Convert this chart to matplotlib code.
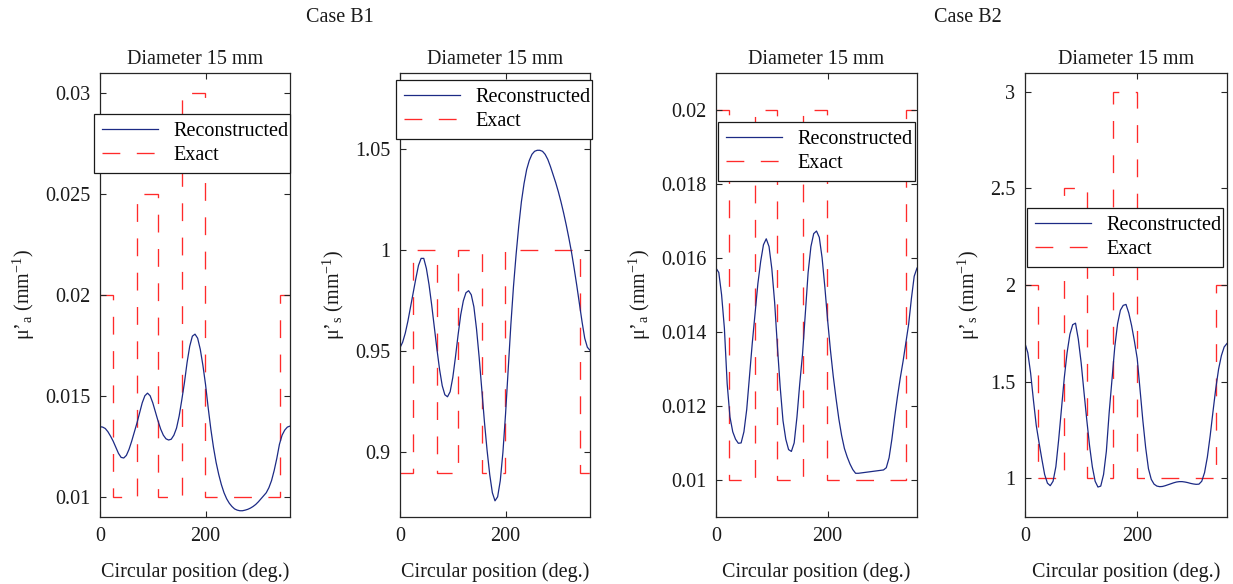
import numpy as np
import matplotlib
matplotlib.use("Agg")
import matplotlib.pyplot as plt

plt.rcParams["font.family"] = ["Liberation Serif", "DejaVu Serif"]
plt.rcParams["mathtext.fontset"] = "custom"
plt.rcParams["mathtext.rm"] = "Liberation Serif"
plt.rcParams["mathtext.it"] = "Liberation Serif:italic"
plt.rcParams["font.size"] = 14.5

# ---------------------------------------------------------------- data
angle = np.arange(0, 361, 5)  # circular position (deg.)

# Case B1 – absorption, reconstructed
b1_mua = [0.01347, 0.01345, 0.01338, 0.01322, 0.01300, 0.01275, 0.01245, 0.01215,
          0.01195, 0.01192, 0.01205, 0.01235, 0.01275, 0.01320, 0.01365, 0.01415,
          0.01465, 0.01500, 0.01513, 0.01500, 0.01465, 0.01420, 0.01375, 0.01335,
          0.01305, 0.01287, 0.01281, 0.01285, 0.01305, 0.01340, 0.01400, 0.01480,
          0.01565, 0.01665, 0.01745, 0.01795, 0.01805, 0.01785, 0.01730, 0.01650,
          0.01555, 0.01440, 0.01335, 0.01245, 0.01170, 0.01110, 0.01060, 0.01020,
          0.00990, 0.00968, 0.00952, 0.00940, 0.00934, 0.00931, 0.00931, 0.00934,
          0.00938, 0.00944, 0.00952, 0.00962, 0.00975, 0.00990, 0.01005, 0.01020,
          0.01045, 0.01080, 0.01130, 0.01190, 0.01260, 0.01305, 0.01330, 0.01345,
          0.01350]

# Case B1 – reduced scattering, reconstructed
b1_mus = [0.9518, 0.9545, 0.9590, 0.9650, 0.9720, 0.9790, 0.9860, 0.9925,
          0.9960, 0.9960, 0.9910, 0.9830, 0.9730, 0.9620, 0.9510, 0.9410,
          0.9330, 0.9285, 0.9275, 0.9300, 0.9370, 0.9470, 0.9580, 0.9680,
          0.9750, 0.9790, 0.9800, 0.9780, 0.9720, 0.9610, 0.9470, 0.9310,
          0.9150, 0.9010, 0.8890, 0.8800, 0.8760, 0.8780, 0.8860, 0.9000,
          0.9190, 0.9410, 0.9630, 0.9820, 0.9980, 1.0120, 1.0240, 1.0330,
          1.0400, 1.0445, 1.0475, 1.0490, 1.0495, 1.0495, 1.0490, 1.0475,
          1.0450, 1.0415, 1.0375, 1.0335, 1.0290, 1.0240, 1.0185, 1.0125,
          1.0060, 0.9990, 0.9910, 0.9825, 0.9735, 0.9645, 0.9565, 0.9520,
          0.9505]

# Case B2 – absorption, reconstructed
b2_mua = [0.01572, 0.01560, 0.01500, 0.01410, 0.01260, 0.01170, 0.01130, 0.01110,
          0.01099, 0.01100, 0.01130, 0.01190, 0.01280, 0.01370, 0.01450, 0.01530,
          0.01590, 0.01635, 0.01651, 0.01630, 0.01570, 0.01480, 0.01360, 0.01250,
          0.01160, 0.01110, 0.01082, 0.01077, 0.01100, 0.01170, 0.01260, 0.01340,
          0.01450, 0.01560, 0.01630, 0.01665, 0.01672, 0.01655, 0.01600, 0.01520,
          0.01430, 0.01350, 0.01280, 0.01220, 0.01165, 0.01120, 0.01085, 0.01062,
          0.01043, 0.01028, 0.01018, 0.01018, 0.01019, 0.01020, 0.01021, 0.01022,
          0.01023, 0.01024, 0.01025, 0.01026, 0.01027, 0.01033, 0.01060, 0.01110,
          0.01170, 0.01225, 0.01275, 0.01320, 0.01370, 0.01420, 0.01490, 0.01550,
          0.01572]

# Case B2 – reduced scattering, reconstructed
b2_mus = [1.698, 1.650, 1.545, 1.405, 1.275, 1.185, 1.100, 1.020,
          0.975, 0.962, 0.985, 1.060, 1.200, 1.360, 1.520, 1.650,
          1.745, 1.795, 1.803, 1.720, 1.600, 1.450, 1.305, 1.170,
          1.060, 0.985, 0.955, 0.960, 1.020, 1.140, 1.340, 1.510,
          1.680, 1.800, 1.870, 1.895, 1.900, 1.855, 1.790, 1.710,
          1.620, 1.460, 1.300, 1.160, 1.050, 0.995, 0.970, 0.960,
          0.957, 0.958, 0.962, 0.967, 0.972, 0.977, 0.981, 0.983,
          0.983, 0.981, 0.978, 0.974, 0.971, 0.969, 0.970, 0.985,
          1.030, 1.110, 1.220, 1.345, 1.465, 1.565, 1.635, 1.680,
          1.698]

# Exact piecewise-constant profiles (segment edges in degrees)
exact_edges = [0, 24, 70, 110, 156, 199, 341, 360]
b1_mua_exact = [0.02, 0.01, 0.025, 0.01, 0.03, 0.01, 0.02]
b1_mus_exact = [0.89, 1.0, 0.89, 1.0, 0.89, 1.0, 0.89]
b2_mua_exact = [0.02, 0.01, 0.02, 0.01, 0.02, 0.01, 0.02]
b2_mus_exact = [2.0, 1.0, 2.5, 1.0, 3.0, 1.0, 2.0]

# y-axis settings per panel
ylims = [(0.009, 0.031), (0.868, 1.088), (0.009, 0.021), (0.80, 3.10)]
yticks = [[0.01, 0.015, 0.02, 0.025, 0.03],
          [0.9, 0.95, 1.0, 1.05],
          [0.01, 0.012, 0.014, 0.016, 0.018, 0.02],
          [1, 1.5, 2, 2.5, 3]]
ytick_labels = [["0.01", "0.015", "0.02", "0.025", "0.03"],
                ["0.9", "0.95", "1", "1.05"],
                ["0.01", "0.012", "0.014", "0.016", "0.018", "0.02"],
                ["1", "1.5", "2", "2.5", "3"]]
ylabels = ["μ’$_\\mathrm{a}$ (mm$^{-1}$)", "μ’$_\\mathrm{s}$ (mm$^{-1}$)",
           "μ’$_\\mathrm{a}$ (mm$^{-1}$)", "μ’$_\\mathrm{s}$ (mm$^{-1}$)"]
recon = [b1_mua, b1_mus, b2_mua, b2_mus]
exact = [b1_mua_exact, b1_mus_exact, b2_mua_exact, b2_mus_exact]

# ---------------------------------------------------------------- layout (pixels)
W, H = 1233, 584
fig = plt.figure(figsize=(W / 100, H / 100), dpi=100)

ax_px = [(100, 190), (400, 190), (716, 201), (1025, 202)]   # left, width
top_px, bot_px = 72.5, 517
legend_px = [(94, 114, 196), (396, 80, 196), (718, 122, 197), (1027, 208, 196)]

navy = "#1c2a85"
red = "#ff2a2a"
frame = "#262626"

for i in range(4):
    l, w = ax_px[i]
    ax = fig.add_axes([l / W, 1 - bot_px / H, w / W, (bot_px - top_px) / H])
    ax.plot(angle, recon[i], color=navy, lw=0.9, label="Reconstructed")
    ax.stairs(exact[i], exact_edges, baseline=None, color=red, lw=0.95,
              linestyle=(0, (13.5, 12.5)), label="Exact")
    ax.set_xlim(0, 360)
    ax.set_ylim(*ylims[i])
    ax.set_xticks([0, 200])
    ax.set_yticks(yticks[i])
    ax.set_yticklabels(ytick_labels[i])
    ax.tick_params(direction="in", length=4, width=0.8, color=frame,
                   top=True, right=True, pad=7, labelcolor="#1a1a1a")
    for s in ax.spines.values():
        s.set_color(frame)
        s.set_linewidth(0.9)
    ax.set_title("Diameter 15 mm", pad=6, fontsize=14.5, color="#1a1a1a")
    ax.set_xlabel("Circular position (deg.)", labelpad=12, color="#1a1a1a")
    ax.set_ylabel(ylabels[i], labelpad=6, color="#1a1a1a")

    lx, ly, lw_ = legend_px[i]
    leg = ax.legend(loc="upper left",
                    bbox_to_anchor=(lx / W, 1 - ly / H, lw_ / W, 0.0),
                    bbox_transform=fig.transFigure, mode="expand",
                    borderaxespad=0, borderpad=0.4, labelspacing=0.25,
                    handlelength=2.8, handletextpad=0.75, fancybox=False,
                    framealpha=1, edgecolor="#1a1a1a", fontsize=14.5)
    leg.get_frame().set_linewidth(0.9)

fig.text(340 / W, 1 - 17 / H, "Case B1", ha="center", va="center",
         fontsize=14.5, color="#1a1a1a")
fig.text(968 / W, 1 - 17 / H, "Case B2", ha="center", va="center",
         fontsize=14.5, color="#1a1a1a")

fig.savefig("out.png", dpi=100, facecolor="white")
